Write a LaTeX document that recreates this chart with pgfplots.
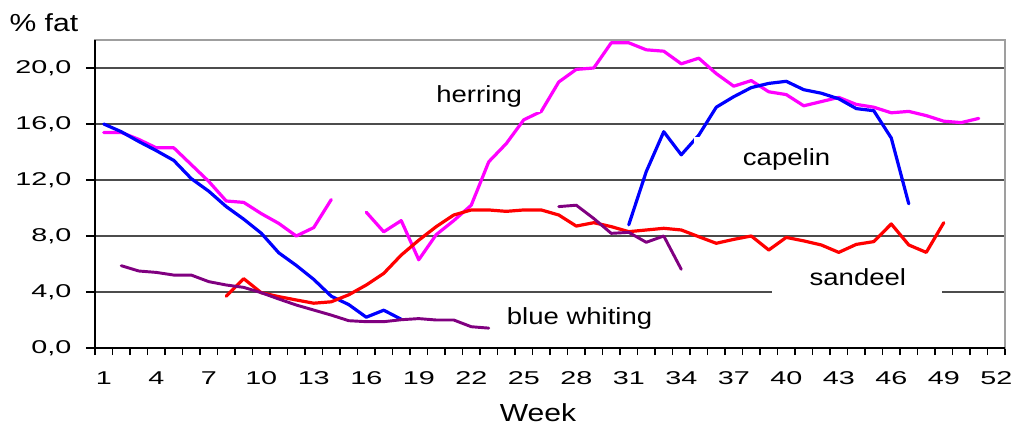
\documentclass[border=0pt]{standalone}
\usepackage{fontspec}
\setmainfont{Liberation Sans}
\newfontfamily\tickfont[FakeStretch=1.55]{Liberation Sans}
\newfontfamily\labfont[FakeStretch=1.18]{Liberation Sans}
\newfontfamily\titfont[FakeStretch=1.22]{Liberation Sans}
\usepackage{pgfplots}
\pgfplotsset{compat=1.18}
\definecolor{colherring}{RGB}{255,0,255}
\definecolor{colcapelin}{RGB}{0,0,255}
\definecolor{colsandeel}{RGB}{255,0,0}
\definecolor{colbw}{RGB}{128,0,128}

\pgfplotstableread{
w v
1 15.4
2 15.4
3 14.9
4 14.3
5 14.3
6 13.1
7 11.9
8 10.5
9 10.4
10 9.6
11 8.9
12 8.0
13 8.6
14 10.6
15 nan
16 9.7
17 8.3
18 9.1
19 6.3
20 8.1
21 9.1
22 10.2
23 13.3
24 14.6
25 16.3
26 16.9
27 19.0
28 19.9
29 20.0
30 21.8
31 21.8
32 21.3
33 21.2
34 20.3
35 20.7
36 19.6
37 18.7
38 19.1
39 18.3
40 18.1
41 17.3
42 17.6
43 17.9
44 17.4
45 17.2
46 16.8
47 16.9
48 16.6
49 16.2
50 16.1
51 16.4
}\herring

\pgfplotstableread{
w v
1 16.0
2 15.45
3 14.75
4 14.1
5 13.4
6 12.1
7 11.2
8 10.1
9 9.2
10 8.2
11 6.8
12 5.9
13 4.9
14 3.7
15 3.1
16 2.2
17 2.7
18 2.05
19 nan
31 8.8
32 12.6
33 15.45
34 13.8
35 15.2
36 17.2
37 17.95
38 18.6
39 18.9
40 19.05
41 18.45
42 18.2
43 17.8
44 17.1
45 16.95
46 15.0
47 10.3
}\capelin

\pgfplotstableread{
w v
8 3.7
9 4.95
10 3.95
11 3.67
12 3.43
13 3.2
14 3.3
15 3.8
16 4.5
17 5.33
18 6.64
19 7.7
20 8.67
21 9.5
22 9.86
23 9.86
24 9.76
25 9.86
26 9.86
27 9.5
28 8.71
29 8.95
30 8.67
31 8.31
32 8.43
33 8.55
34 8.43
35 7.95
36 7.48
37 7.76
38 8.0
39 7.0
40 7.9
41 7.65
42 7.36
43 6.83
44 7.4
45 7.6
46 8.86
47 7.36
48 6.83
49 8.95
}\sandeel

\pgfplotstableread{
w v
2 5.88
3 5.5
4 5.4
5 5.21
6 5.21
7 4.74
8 4.5
9 4.33
10 3.95
11 3.5
12 3.07
13 2.71
14 2.35
15 1.95
16 1.88
17 1.88
18 2.02
19 2.1
20 2.0
21 2.0
22 1.52
23 1.42
24 nan
27 10.1
28 10.2
29 9.25
30 8.19
31 8.26
32 7.55
33 8.0
34 5.62
}\bluewhiting

\begin{document}
\begin{tikzpicture}
\useasboundingbox (0,0) rectangle (762pt,318.75pt);
\begin{axis}[
  at={(71.25pt,57.75pt)}, anchor=south west,
  scale only axis, width=682.5pt, height=231pt,
  xmin=0.5, xmax=52.5, ymin=0, ymax=22,
  xtick={1,4,...,52},
  xticklabels={1,4,7,10,13,16,19,22,25,28,31,34,37,40,43,46,49,52},
  minor xtick={0.5,1.5,...,52.5},
  ytick={0,4,...,20},
  yticklabels={{0,0},{4,0},{8,0},{12,0},{16,0},{20,0}},
  xtick pos=bottom, ytick pos=left,
  tick align=outside,
  major tick length=6.75pt, minor tick length=5.25pt,
  major x tick style={draw=none},
  minor x tick style={black, line width=0.8pt},
  major y tick style={black, line width=0.8pt},
  ymajorgrids=true,
  major grid style={black!70, line width=0.8pt},
  axis line style={gray!75, line width=1.5pt},
  ticklabel style={font=\tickfont\fontsize{13.9}{14}\selectfont, inner sep=0pt},
  xticklabel style={anchor=north, yshift=-10.75pt},
  yticklabel style={anchor=east, xshift=-10.75pt},
  unbounded coords=jump,
  every axis plot/.append style={line width=2.4pt, line join=round, line cap=round},
  clip=false,
]
\addplot[colherring] table[x=w,y=v] {\herring};
\addplot[colcapelin] table[x=w,y=v] {\capelin};
\addplot[colsandeel] table[x=w,y=v] {\sandeel};
\addplot[colbw, line width=2.2pt] table[x=w,y=v] {\bluewhiting};
\fill[white] (axis cs:18.73,16.86) rectangle (axis cs:25.93,19.5);
\fill[white] (axis cs:34.73,12.36) rectangle (axis cs:45.07,15.07);
\fill[white] (axis cs:39.19,3.43) rectangle (axis cs:48.9,6.43);
\draw[black, line width=1.2pt] (rel axis cs:0,1) -- (rel axis cs:0,0) -- (rel axis cs:1,0);
\node[anchor=base west, inner sep=0pt, font=\labfont\fontsize{17.5}{18}\selectfont] at (axis cs:19.99,17.52) {herring};
\node[anchor=base west, inner sep=0pt, font=\labfont\fontsize{17.5}{18}\selectfont] at (axis cs:37.51,13.07) {capelin};
\node[anchor=base west, inner sep=0pt, font=\labfont\fontsize{17.5}{18}\selectfont] at (axis cs:41.32,4.5) {sandeel};
\node[anchor=base west, inner sep=0pt, font=\labfont\fontsize{17.5}{18}\selectfont] at (axis cs:24.02,1.71) {blue whiting};
\end{axis}
\node[anchor=base west, inner sep=0pt, font=\titfont\fontsize{18.5}{19}\selectfont] at (7pt,294.75pt) {\% fat};
\node[anchor=base, inner sep=0pt, font=\titfont\fontsize{18.5}{19}\selectfont] at (403.5pt,2.5pt) {Week};
\end{tikzpicture}
\end{document}
